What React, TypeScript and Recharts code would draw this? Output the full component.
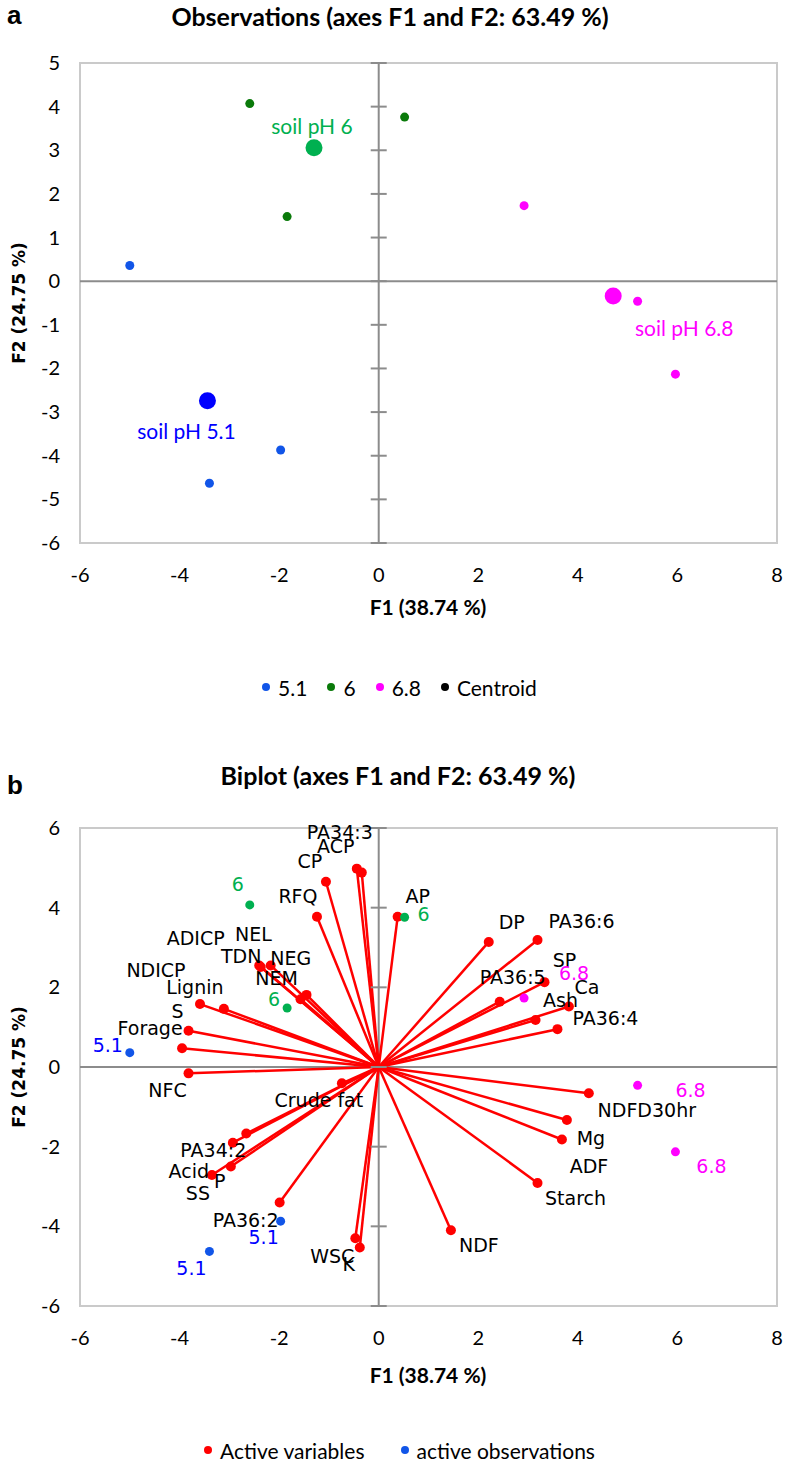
import React from "react";
import { ScatterChart, Scatter, XAxis, YAxis, ReferenceLine, ReferenceArea } from "recharts";

// observations on F1/F2, one list per soil pH group
const ph51F1 = [-5.0, -1.97, -3.4];
const ph51F2 = [0.36, -3.87, -4.63];
const ph6F1 = [-2.59, 0.52, -1.84];
const ph6F2 = [4.07, 3.76, 1.48];
const ph68F1 = [2.92, 5.2, 5.96];
const ph68F2 = [1.73, -0.46, -2.13];

const centroidNames = ["soil pH 5.1", "soil pH 6", "soil pH 6.8"];
const centroidF1 = [-3.44, -1.3, 4.71];
const centroidF2 = [-2.74, 3.06, -0.34];

// active variables (loadings scaled for the biplot)
const varNames = [
  "PA34:3", "ACP", "CP", "RFQ", "AP", "DP", "PA36:6", "SP", "PA36:5", "Ca", "Ash", "PA36:4",
  "NDFD30hr", "Mg", "ADF", "Starch", "NDF", "K", "WSC", "PA36:2", "SS", "P", "Acid", "PA34:2",
  "Crude fat", "NFC", "Forage", "S", "Lignin", "NDICP", "NEM", "NEL", "ADICP", "TDN", "NEG",
];
const varF1 = [
  -0.44, -0.34, -1.06, -1.24, 0.38, 2.21, 3.19, 3.33, 2.43, 3.82, 3.15, 3.59,
  4.22, 3.78, 3.68, 3.19, 1.45, -0.38, -0.47, -1.99, -3.35, -2.97, -2.93, -2.66,
  -0.74, -3.82, -3.95, -3.82, -3.11, -3.59, -1.57, -1.45, -2.37, -2.4, -2.17,
];
const varF2 = [
  4.98, 4.88, 4.65, 3.77, 3.77, 3.14, 3.19, 2.13, 1.64, 1.52, 1.18, 0.95,
  -0.66, -1.33, -1.82, -2.91, -4.1, -4.53, -4.3, -3.4, -2.71, -2.5, -1.9, -1.67,
  -0.41, -0.16, 0.47, 0.91, 1.46, 1.58, 1.7, 1.81, 2.51, 2.55, 2.55,
];

const xTicks = [-6, -4, -2, 0, 2, 4, 6, 8];
const yTicksA = [5, 4, 3, 2, 1, 0, -1, -2, -3, -4, -5, -6];
const yTicksB = [6, 4, 2, 0, -2, -4, -6];

const legendA = [
  { label: "5.1", color: "#1155e8" },
  { label: "6", color: "#0a7a0a" },
  { label: "6.8", color: "#ff00ff" },
  { label: "Centroid", color: "#000000" },
];
const legendB = [
  { label: "Active variables", color: "#ff0000" },
  { label: "active observations", color: "#1155e8" },
];

// label placement (pixels from the point), kept apart from the data
const varLabelShift: Record<string, [number, number]> = {
  "PA34:3": [-17, -36], ACP: [-26, -26], CP: [-16, -20], RFQ: [-19, -20], AP: [20, -20],
  DP: [23, -20], "PA36:6": [44, -19], SP: [20, -22], "PA36:5": [13, -24], Ca: [18, -19],
  Ash: [25, -20], "PA36:4": [48, -11], NDFD30hr: [58, 17], Mg: [24, 18], ADF: [27, 27],
  Starch: [38, 15], NDF: [28, 15], K: [-11, 17], WSC: [-23, 18], "PA36:2": [-34, 18],
  SS: [-14, 18], P: [-11, 15], Acid: [-44, 29], "PA34:2": [-33, 17], "Crude fat": [-23, 17],
  NFC: [-21, 17], Forage: [-32, -20], S: [-11, -19], Lignin: [-29, -21], NDICP: [-44, -34],
  NEM: [-24, -21], NEL: [-53, -61], ADICP: [-65, -29], TDN: [-18, -9], NEG: [20, -7],
};
const centroidShift: [number, number][] = [[-21, 31], [-2, -21], [71, 33]];
const obs51Shift: [number, number][] = [[-22, -7], [-17, 16], [-18, 17]];
const obs6Shift: [number, number][] = [[-12, -21], [19, -3], [-13, -9]];
const obs68Shift: [number, number][] = [[50, -25], [53, 5], [36, 15]];

const TICK_FONT = "Lato, 'Open Sans', sans-serif";
const LABEL_FONT = "'DejaVu Sans', Verdana, sans-serif";
const AXIS_GREY = "#8c8c8c";
const BORDER_GREY = "#cacaca";

const rows = (xs: number[], ys: number[]) => xs.map((x, i) => ({ x, y: ys[i], i }));

const XTick = (p: any) => (
  <text x={p.x} y={p.y + 32} dy="0.35em" textAnchor="middle" fontFamily={TICK_FONT} fontSize={20} fill="#000">
    {p.payload.value}
  </text>
);
const YTick = (p: any) => (
  <text x={p.x - 20} y={p.y} dy="0.35em" textAnchor="end" fontFamily={TICK_FONT} fontSize={20} fill="#000">
    {p.payload.value}
  </text>
);
const AxisMark = (p: any) => (
  <line x1={p.cx - 8} x2={p.cx + 8} y1={p.cy} y2={p.cy} stroke={AXIS_GREY} strokeWidth={2} />
);
const dot = (r: number, fill: string) => (p: any) => <circle cx={p.cx} cy={p.cy} r={r} fill={fill} />;

const labelledDot =
  (r: number, fill: string, textFill: string, text: (i: number) => string, shift: (i: number) => [number, number], font: string, size: number) =>
  (p: any) => {
    const i = p.payload.i;
    const [dx, dy] = shift(i);
    return (
      <g>
        <circle cx={p.cx} cy={p.cy} r={r} fill={fill} />
        <text x={p.cx + dx} y={p.cy + dy} dy="0.35em" textAnchor="middle" fontFamily={font} fontSize={size} fill={textFill}>
          {text(i)}
        </text>
      </g>
    );
  };

const Legend = ({ items, top, gap }: { items: { label: string; color: string }[]; top: number; gap: number }) => (
  <div
    style={{
      position: "absolute", top, left: 6, width: 787, height: 24, display: "flex", justifyContent: "center",
      alignItems: "center", fontFamily: TICK_FONT, fontSize: 21, color: "#000", gap,
    }}
  >
    {items.map((it) => (
      <span key={it.label} style={{ display: "inline-flex", alignItems: "center" }}>
        <span style={{ width: 8, height: 8, borderRadius: 4, background: it.color, marginRight: 8 }} />
        {it.label}
      </span>
    ))}
  </div>
);

const ObservationsChart = () => (
  <ScatterChart width={787} height={620} margin={{ top: 63, right: 10, bottom: 37, left: 40 }}>
    <XAxis type="number" dataKey="x" domain={[-6, 8]} ticks={xTicks} axisLine={false} tickLine={false} tickSize={0} tickMargin={0} height={40} tick={XTick} />
    <YAxis type="number" dataKey="y" domain={[-6, 5]} ticks={yTicksA} axisLine={false} tickLine={false} tickSize={0} tickMargin={0} width={40} tick={YTick} />
    <ReferenceArea x1={-6} x2={8} y1={-6} y2={5} fill="none" stroke={BORDER_GREY} strokeWidth={2} />
    <ReferenceLine x={0} stroke={AXIS_GREY} strokeWidth={2} />
    <ReferenceLine y={0} stroke={AXIS_GREY} strokeWidth={2} />
    <Scatter data={yTicksA.map((y) => ({ x: 0, y }))} shape={AxisMark} isAnimationActive={false} />
    <Scatter data={rows(ph51F1, ph51F2)} shape={dot(4.5, "#1155e8")} isAnimationActive={false} />
    <Scatter data={rows(ph6F1, ph6F2)} shape={dot(4.5, "#0a7a0a")} isAnimationActive={false} />
    <Scatter data={rows(ph68F1, ph68F2)} shape={dot(4.5, "#ff00ff")} isAnimationActive={false} />
    <Scatter
      data={rows(centroidF1, centroidF2)}
      isAnimationActive={false}
      shape={(p: any) => {
        const colors = ["#0000ff", "#00b050", "#ff00ff"];
        return labelledDot(8.5, colors[p.payload.i], colors[p.payload.i], (i) => centroidNames[i], (i) => centroidShift[i], TICK_FONT, 21)(p);
      }}
    />
  </ScatterChart>
);

const BiplotChart = () => (
  <ScatterChart width={787} height={620} margin={{ top: 68, right: 10, bottom: 34, left: 40 }}>
    <XAxis type="number" dataKey="x" domain={[-6, 8]} ticks={xTicks} axisLine={false} tickLine={false} tickSize={0} tickMargin={0} height={40} tick={XTick} />
    <YAxis type="number" dataKey="y" domain={[-6, 6]} ticks={yTicksB} axisLine={false} tickLine={false} tickSize={0} tickMargin={0} width={40} tick={YTick} />
    <ReferenceArea x1={-6} x2={8} y1={-6} y2={6} fill="none" stroke={BORDER_GREY} strokeWidth={2} />
    <ReferenceLine x={0} stroke={AXIS_GREY} strokeWidth={2} />
    <ReferenceLine y={0} stroke={AXIS_GREY} strokeWidth={2} />
    <Scatter data={yTicksB.map((y) => ({ x: 0, y }))} shape={AxisMark} isAnimationActive={false} />
    {varNames.map((n, i) => (
      <ReferenceLine key={n} segment={[{ x: 0, y: 0 }, { x: varF1[i], y: varF2[i] }]} stroke="#ff0000" strokeWidth={2.5} />
    ))}
    <Scatter
      data={rows(varF1, varF2)}
      isAnimationActive={false}
      shape={labelledDot(5, "#ff0000", "#000", (i) => varNames[i], (i) => varLabelShift[varNames[i]], LABEL_FONT, 19)}
    />
    <Scatter data={rows(ph51F1, ph51F2)} isAnimationActive={false} shape={labelledDot(4.5, "#1155e8", "#0000ff", () => "5.1", (i) => obs51Shift[i], LABEL_FONT, 19)} />
    <Scatter data={rows(ph6F1, ph6F2)} isAnimationActive={false} shape={labelledDot(4.5, "#00b050", "#00b050", () => "6", (i) => obs6Shift[i], LABEL_FONT, 19)} />
    <Scatter data={rows(ph68F1, ph68F2)} isAnimationActive={false} shape={labelledDot(4.5, "#ff00ff", "#ff00ff", () => "6.8", (i) => obs68Shift[i], LABEL_FONT, 19)} />
  </ScatterChart>
);

export default function App() {
  const bold = { fontFamily: TICK_FONT, fontWeight: 700 } as const;
  return (
    <div style={{ position: "absolute", left: 0, top: 0, width: 787, height: 1473, background: "#fff", overflow: "hidden" }}>
      <div style={{ position: "absolute", left: 0, top: 0 }}>
        <ObservationsChart />
      </div>
      <div style={{ position: "absolute", left: 0, top: 760 }}>
        <BiplotChart />
      </div>
      <Legend items={legendA} top={675} gap={20} />
      <Legend items={legendB} top={1438} gap={36} />
      <svg width={787} height={1473} style={{ position: "absolute", left: 0, top: 0, pointerEvents: "none" }}>
        <text x={7} y={24} fontFamily="'Liberation Sans', Arial, sans-serif" fontWeight={700} fontSize={26}>a</text>
        <text x={7} y={794} fontFamily="'Liberation Sans', Arial, sans-serif" fontWeight={700} fontSize={26}>b</text>
        <text x={390} y={17} dy="0.35em" textAnchor="middle" fontSize={25} {...bold}>Observations (axes F1 and F2: 63.49 %)</text>
        <text x={398} y={776} dy="0.35em" textAnchor="middle" fontSize={25} {...bold}>Biplot (axes F1 and F2: 63.49 %)</text>
        <text x={428} y={608} dy="0.35em" textAnchor="middle" fontSize={21} {...bold}>F1 (38.74 %)</text>
        <text x={428} y={1376} dy="0.35em" textAnchor="middle" fontSize={21} {...bold}>F1 (38.74 %)</text>
        <text transform="translate(19,303) rotate(-90)" dy="0.35em" textAnchor="middle" fontFamily="'DejaVu Sans', sans-serif" fontWeight={700} fontSize={17}>F2 (24.75 %)</text>
        <text transform="translate(19,1067) rotate(-90)" dy="0.35em" textAnchor="middle" fontFamily="'DejaVu Sans', sans-serif" fontWeight={700} fontSize={17}>F2 (24.75 %)</text>
      </svg>
    </div>
  );
}
